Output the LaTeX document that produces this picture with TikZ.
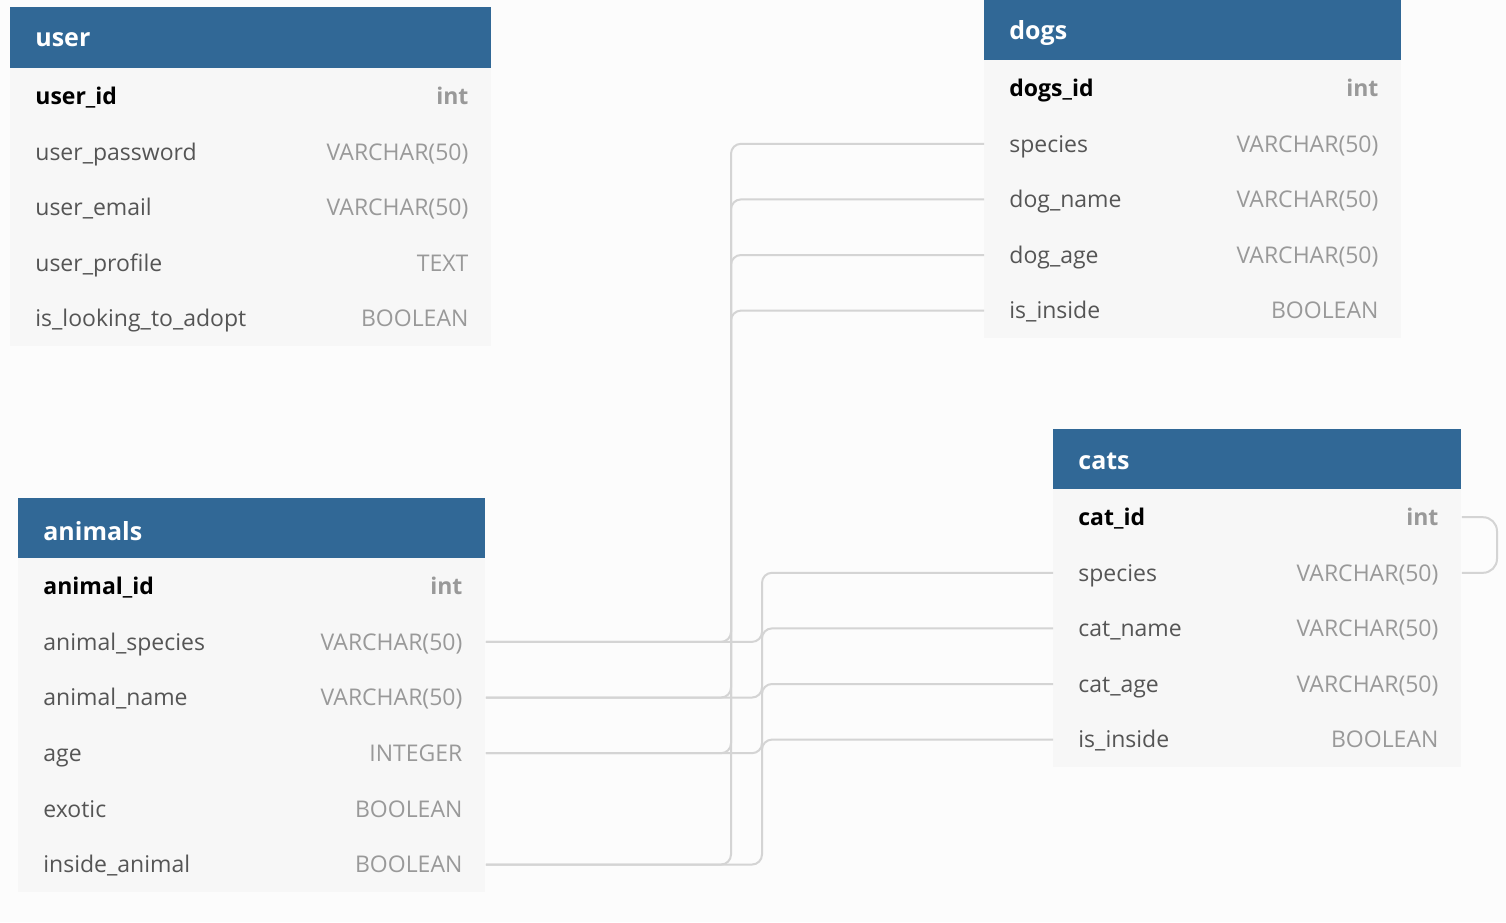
\documentclass[tikz,border=0pt]{standalone}
\usepackage{fontspec}
\setmainfont{Open Sans}
\usetikzlibrary{positioning,calc}
\definecolor{hdrblue}{HTML}{316896}
\definecolor{rowbg}{HTML}{F7F7F7}
\definecolor{pagebg}{HTML}{FCFCFC}
\definecolor{namegray}{HTML}{555555}
\definecolor{typegray}{HTML}{999999}
\definecolor{linkgray}{HTML}{D4D4D4}

\begin{document}
\begin{tikzpicture}[x=0.5pt, y=-0.5pt,
    hdr/.style={fill=hdrblue, inner sep=0pt, anchor=north west, minimum height=30.25pt},
    rowbox/.style={fill=rowbg, inner sep=0pt, anchor=north west, minimum height=27.8pt},
    hdrtext/.style={anchor=west, text=white, inner sep=0pt, yshift=-1pt, font=\fontsize{12.5}{15}\selectfont\bfseries},
    colname/.style={anchor=west, text=namegray, inner sep=0pt, yshift=-1.4pt, text height=8pt, text depth=2.5pt, font=\fontsize{11.5}{13}\selectfont},
    coltype/.style={anchor=east, text=typegray, inner sep=0pt, yshift=-1.4pt, text height=8pt, text depth=2.5pt, font=\fontsize{11.5}{13}\selectfont},
    link/.style={draw=linkgray, line width=1pt, rounded corners=5pt}]
    \useasboundingbox (0,0) rectangle (1506,922);
    \fill[pagebg] (0,0) rectangle (1506,922);

    % user
    \node[hdr, minimum width=240.5pt] (user) at (10,7) {};
    \node[hdrtext] at ($(user.west)+(25,0)$) {user};
    \foreach \i/\col/\typ in {1/user\_id/int, 2/user\_password/VARCHAR(50), 3/user\_email/VARCHAR(50), 4/user\_profile/TEXT, 5/is\_looking\_to\_adopt/BOOLEAN} {
        \node[rowbox, minimum width=240.5pt] (user-\i) at (10,{68+(\i-1)*55.6}) {};
        \node[colname] at ($(user-\i.west)+(25,0)$) {\ifnum\i=1\bfseries\color{black}\fi\col};
        \node[coltype] at ($(user-\i.east)+(-23,0)$) {\ifnum\i=1\bfseries\fi\typ};
    }

    % dogs
    \node[hdr, minimum width=208.5pt] (dogs) at (984,0) {};
    \node[hdrtext] at ($(dogs.west)+(25,0)$) {dogs};
    \foreach \i/\col/\typ in {1/dogs\_id/int, 2/species/VARCHAR(50), 3/dog\_name/VARCHAR(50), 4/dog\_age/VARCHAR(50), 5/is\_inside/BOOLEAN} {
        \node[rowbox, minimum width=208.5pt] (dogs-\i) at (984,{60+(\i-1)*55.6}) {};
        \node[colname] at ($(dogs-\i.west)+(25,0)$) {\ifnum\i=1\bfseries\color{black}\fi\col};
        \node[coltype] at ($(dogs-\i.east)+(-23,0)$) {\ifnum\i=1\bfseries\fi\typ};
    }

    % cats
    \node[hdr, minimum width=204pt] (cats) at (1053,429) {};
    \node[hdrtext] at ($(cats.west)+(25,0)$) {cats};
    \foreach \i/\col/\typ in {1/cat\_id/int, 2/species/VARCHAR(50), 3/cat\_name/VARCHAR(50), 4/cat\_age/VARCHAR(50), 5/is\_inside/BOOLEAN} {
        \node[rowbox, minimum width=204pt] (cats-\i) at (1053,{489+(\i-1)*55.6}) {};
        \node[colname] at ($(cats-\i.west)+(25,0)$) {\ifnum\i=1\bfseries\color{black}\fi\col};
        \node[coltype] at ($(cats-\i.east)+(-23,0)$) {\ifnum\i=1\bfseries\fi\typ};
    }

    % animals
    \node[hdr, minimum width=233.5pt] (animals) at (18,498) {};
    \node[hdrtext] at ($(animals.west)+(25,0)$) {animals};
    \foreach \i/\col/\typ in {1/animal\_id/int, 2/animal\_species/VARCHAR(50), 3/animal\_name/VARCHAR(50), 4/age/INTEGER, 5/exotic/BOOLEAN, 6/inside\_animal/BOOLEAN} {
        \node[rowbox, minimum width=233.5pt] (animals-\i) at (18,{558+(\i-1)*55.67}) {};
        \node[colname] at ($(animals-\i.west)+(25,0)$) {\ifnum\i=1\bfseries\color{black}\fi\col};
        \node[coltype] at ($(animals-\i.east)+(-23,0)$) {\ifnum\i=1\bfseries\fi\typ};
    }

    % links
    \coordinate (dogbus) at (731,0);
    \coordinate (catbus) at (762,0);
    \coordinate (catloop) at (1497,0);
    \foreach \d/\a in {2/2, 3/3, 4/4, 5/6}
        \draw[link] (dogs-\d.west) -| (dogbus |- animals-\a.east) -- (animals-\a.east);
    \foreach \c/\a in {2/2, 3/3, 4/4, 5/6}
        \draw[link] (cats-\c.west) -| (catbus |- animals-\a.east) -- (animals-\a.east);
    \draw[link, rounded corners=7pt] (cats-1.east) -| (catloop |- cats-2.east) -- (cats-2.east);
\end{tikzpicture}
\end{document}
